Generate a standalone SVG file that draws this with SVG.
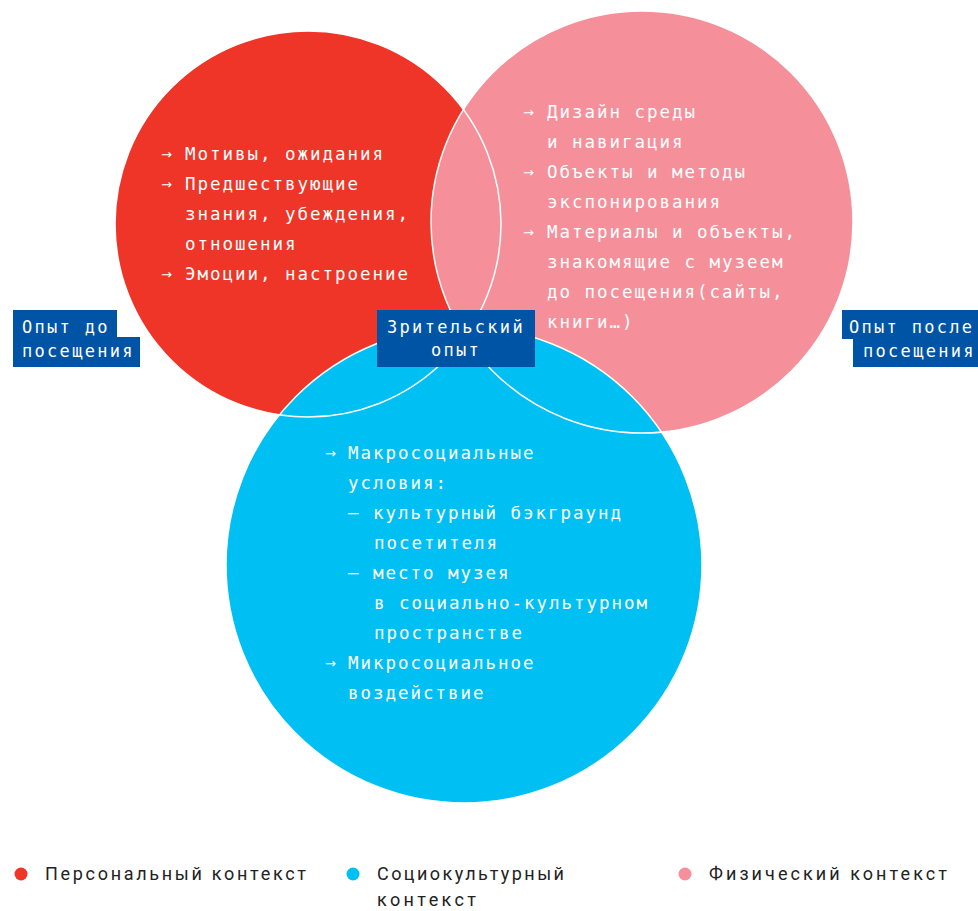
<svg xmlns="http://www.w3.org/2000/svg" width="978" height="911" viewBox="0 0 978 911">
<style>
.t{font-family:"DejaVu Sans Mono","Liberation Mono",monospace;font-size:17.5px;letter-spacing:1.96px;fill:#fff}
.ar{font-family:"DejaVu Sans",sans-serif;font-size:13px;fill:#fff}
.lbl{font-family:"DejaVu Sans Mono","Liberation Mono",monospace;font-size:17px;letter-spacing:2.3px;fill:#fff}
.lg{font-family:Roboto,"Liberation Sans",sans-serif;font-size:18px;fill:#222}
.edge{fill:none;stroke:#fff;stroke-width:1.5}
.box{fill:#0054A5}
</style>
<rect width="978" height="911" fill="#fff"/>
<g id="circles">
<circle id="personal" cx="308" cy="224" r="193" fill="#EE3527"/>
<circle id="physical" cx="642" cy="222" r="211" fill="#F5909A"/>
<circle id="sociocultural" cx="464" cy="565" r="238" fill="#00BFF3"/>
</g>
<g id="connectors">
<circle class="edge" cx="308" cy="224" r="193"/>
<circle class="edge" cx="642" cy="222" r="211"/>
<circle class="edge" cx="464" cy="565" r="238"/>
</g>
<g id="personal-text">
<text class="ar" x="161" y="159">→</text>
<text class="t" x="185" y="160">Мотивы, ожидания</text>
<text class="ar" x="161" y="189">→</text>
<text class="t" x="185" y="190">Предшествующие</text>
<text class="t" x="185" y="220">знания, убеждения,</text>
<text class="t" x="185" y="250">отношения</text>
<text class="ar" x="161" y="279">→</text>
<text class="t" x="185" y="280">Эмоции, настроение</text>
</g>
<g id="physical-text">
<text class="ar" x="523" y="117">→</text>
<text class="t" x="547" y="118">Дизайн среды</text>
<text class="t" x="547" y="148">и навигация</text>
<text class="ar" x="523" y="177">→</text>
<text class="t" x="547" y="178">Объекты и методы</text>
<text class="t" x="547" y="208">экспонирования</text>
<text class="ar" x="523" y="237">→</text>
<text class="t" x="547" y="238">Материалы и объекты,</text>
<text class="t" x="547" y="268">знакомящие с музеем</text>
<text class="t" x="547" y="298">до посещения(сайты,</text>
<text class="t" x="547" y="328">книги…)</text>
</g>
<g id="sociocultural-text">
<text class="ar" x="325" y="458">→</text>
<text class="t" x="348" y="459">Макросоциальные</text>
<text class="t" x="348" y="489">условия:</text>
<text class="t" x="348" y="519">— культурный бэкграунд</text>
<text class="t" x="374" y="549">посетителя</text>
<text class="t" x="348" y="579">— место музея</text>
<text class="t" x="374" y="609">в социально-культурном</text>
<text class="t" x="374" y="639">пространстве</text>
<text class="ar" x="325" y="668">→</text>
<text class="t" x="348" y="669">Микросоциальное</text>
<text class="t" x="348" y="699">воздействие</text>
</g>
<g id="before">
<path class="box" d="M13,310H117V337H140V367H13Z"/>
<text class="lbl" x="22" y="333">Опыт до</text>
<text class="lbl" x="22" y="357">посещения</text>
</g>
<g id="viewer">
<rect class="box" x="377" y="310" width="158" height="57"/>
<text class="lbl" x="456" y="333" text-anchor="middle">Зрительский</text>
<text class="lbl" x="456" y="356" text-anchor="middle">опыт</text>
</g>
<g id="after">
<path class="box" d="M842,310H978V367H853V339H842Z"/>
<text class="lbl" x="849" y="333">Опыт после</text>
<text class="lbl" x="863" y="357">посещения</text>
</g>
<g id="legend">
<circle cx="21" cy="874" r="6.5" fill="#EE3527"/>
<text class="lg" x="45" y="880" textLength="261" lengthAdjust="spacing">Персональный контекст</text>
<circle cx="353" cy="874" r="6.5" fill="#00BFF3"/>
<text class="lg" x="377" y="880" textLength="187" lengthAdjust="spacing">Социокультурный</text>
<text class="lg" x="377" y="906" textLength="99" lengthAdjust="spacing">контекст</text>
<circle cx="685" cy="874" r="6.5" fill="#F5909A"/>
<text class="lg" x="709" y="880" textLength="238" lengthAdjust="spacing">Физический контекст</text>
</g>
</svg>
